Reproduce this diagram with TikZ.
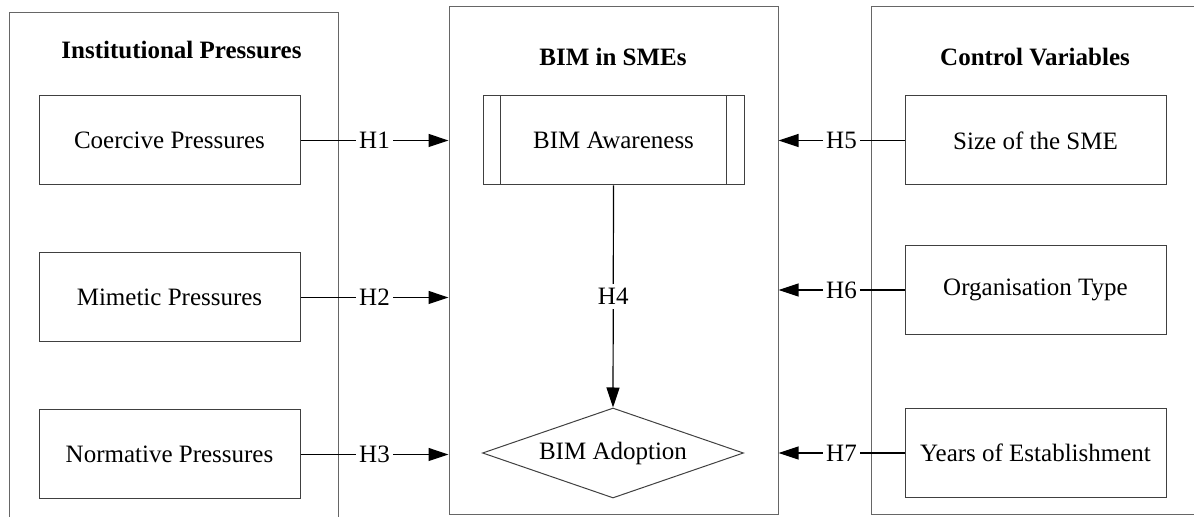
\documentclass[tikz,border=0pt]{standalone}
\usepackage{fontspec}
\setmainfont{Liberation Serif}
\usetikzlibrary{shapes.geometric,arrows.meta,positioning}

\tikzset{
  panel/.style={draw=black!60,line width=0.5pt,inner sep=0pt,
    minimum width=164.5pt},
  title/.style={font=\fontsize{12.5}{15}\selectfont\bfseries,anchor=base},
  box/.style={draw=black!75,line width=0.5pt,inner sep=0pt,
    minimum width=130.5pt,minimum height=44.5pt,
    font=\fontsize{12.5}{15}\selectfont},
  choice/.style={box,diamond,aspect=2.9,minimum height=45pt},
  link/.style={line width=0.6pt,-{Triangle[length=10pt,width=6.5pt]}},
  hyp/.style={fill=white,inner xsep=1.5pt,inner ysep=2pt,
    font=\fontsize{12.5}{15}\selectfont}
}

\begin{document}
\begin{tikzpicture}[x=0.5pt,y=-0.5pt,node distance=33.5pt]
  \useasboundingbox (0,0) rectangle (1194,517);
  \clip (0,0) rectangle (1194,517);

  % the three panels
  \node[panel,minimum height=262pt] (inst) at (173.5,275) {};
  \node[panel,minimum height=254pt] (mid) at (613.5,261) {};
  \node[panel,minimum height=254pt] (ctrl) at (1035.5,261) {};

  \node[title] (instT) at (181.5,59) {Institutional Pressures};
  \node[title] (midT) at (613,66) {BIM in SMEs};
  \node[title] (ctrlT) at (1035,66) {Control Variables};

  % institutional pressures
  \node[box] (Coer) at (169.5,140.5) {Coercive Pressures};
  \node[box] (Mime) [below=of Coer] {Mimetic Pressures};
  \node[box] (Norm) [below=of Mime] {Normative Pressures};

  % BIM in SMEs
  \node[box] (Aware) at (613.5,140.5) {BIM Awareness};
  \draw[draw=black!75,line width=0.5pt]
    ([xshift=9pt]Aware.north west) -- ([xshift=9pt]Aware.south west)
    ([xshift=-9pt]Aware.north east) -- ([xshift=-9pt]Aware.south east);
  \node[choice] (Adopt) at (613,453) {BIM Adoption};

  % control variables
  \node[box] (Size) at (1035.5,140.5) {Size of the SME};
  \node[box] (Org) at (1035.5,290) {Organisation Type};
  \node[box] (Years) at (1035.5,453) {Years of Establishment};

  % hypotheses
  \draw[link] (Coer.east) -- node[hyp] {H1} (Coer.east -| mid.west);
  \draw[link] (Mime.east) -- node[hyp] {H2} (Mime.east -| mid.west);
  \draw[link] (Norm.east) -- node[hyp] {H3} (Norm.east -| mid.west);
  \draw[link] (Aware.south) -- node[hyp] {H4} (Adopt.north);
  \draw[link] (Size.west) -- node[hyp] {H5} (Size.west -| mid.east);
  \draw[link] (Org.west) -- node[hyp] {H6} (Org.west -| mid.east);
  \draw[link] (Years.west) -- node[hyp] {H7} (Years.west -| mid.east);
\end{tikzpicture}
\end{document}
